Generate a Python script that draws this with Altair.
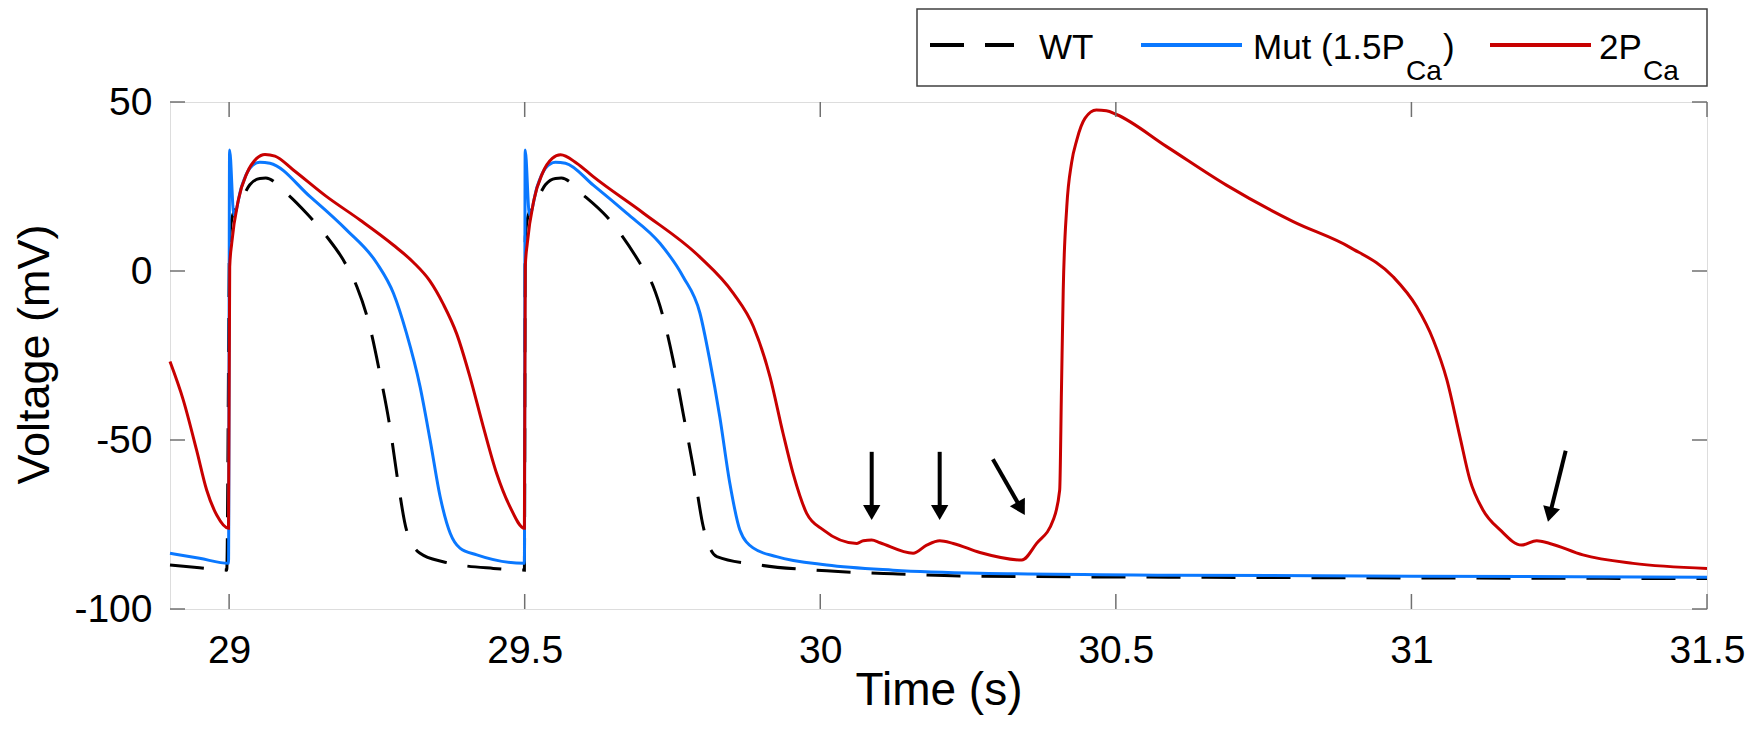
import altair as alt
import pandas as pd
import numpy as np

W, H = 1537, 507
T_MIN, T_MAX = 28.9, 31.5
V_MIN, V_MAX = -100, 50
FONT = "Liberation Sans"

x_ticks = [29, 29.5, 30, 30.5, 31, 31.5]
y_ticks = [-100, -50, 0, 50]

# WT (dashed black)
wt_t = [28.900, 28.950, 28.996, 29.001, 29.006, 29.018, 29.035, 29.052, 29.062, 29.097, 29.131,
        29.165, 29.193, 29.216, 29.238, 29.255, 29.272, 29.286, 29.300, 29.323, 29.362, 29.447,
        29.4995, 29.501, 29.506, 29.518, 29.535, 29.552, 29.562, 29.599, 29.6387, 29.695, 29.7175,
        29.734, 29.751, 29.768, 29.785, 29.802, 29.825, 29.898, 30.011, 30.123, 30.236, 30.600,
        31.000, 31.500]
wt_v = [-87.0, -87.8, -88.5, 10.0, 16.5, 20.0, 25.5, 27.4, 27.5, 23.0, 17.1,
        10.2, 3.3, -4.6, -16.5, -30.3, -46.1, -62.8, -76.6, -83.5, -86.0, -88.0,
        -88.5, 10.0, 16.5, 20.0, 25.5, 27.4, 27.5, 22.5, 16.1, 2.3, -4.6,
        -13.5, -26.3, -42.1, -57.9, -75.6, -84.5, -87.0, -88.7, -89.6, -90.2, -90.6,
        -90.8, -91.0]

# Mut (1.5 PCa) (blue)
mut_t = [28.900, 28.950, 28.999, 29.0008, 29.008, 29.021, 29.035, 29.052, 29.069, 29.137, 29.199,
         29.250, 29.278, 29.300, 29.323, 29.340, 29.357, 29.374, 29.3905, 29.419, 29.4995,
         29.5008, 29.508, 29.521, 29.535, 29.552, 29.569, 29.616, 29.6725, 29.7288, 29.768,
         29.7965, 29.813, 29.830, 29.847, 29.864, 29.887, 29.926, 30.011, 30.123, 30.270,
         30.600, 31.000, 31.500]
mut_v = [-83.5, -85.0, -86.5, 35.8, 16.6, 24.9, 30.4, 32.2, 31.9, 22.0, 12.1,
         2.3, -6.6, -18.4, -34.2, -50.0, -66.8, -77.6, -82.0, -84.0, -86.5,
         35.8, 16.6, 24.9, 30.4, 32.2, 31.9, 25.4, 17.1, 8.2, -1.7,
         -12.5, -26.3, -43.1, -62.8, -76.6, -82.0, -84.5, -87.0, -88.5, -89.4,
         -90.0, -90.3, -90.6]

# 2 PCa (red)
red_t = [28.900, 28.9225, 28.945, 28.962, 28.979, 28.999,
         29.001, 29.0044, 29.0156, 29.030, 29.0466, 29.0607, 29.0776, 29.1086, 29.165, 29.2214,
         29.2777, 29.3115, 29.3398, 29.3623, 29.385, 29.4074, 29.430, 29.4526, 29.475, 29.4995,
         29.501, 29.5044, 29.5156, 29.530, 29.5466, 29.5607, 29.588, 29.616, 29.701, 29.796,
         29.853, 29.887, 29.915, 29.937, 29.954, 29.977, 30.005, 30.062, 30.0727, 30.087,
         30.101, 30.157, 30.180, 30.202, 30.225, 30.270, 30.341, 30.366, 30.394, 30.405,
         30.408, 30.411, 30.417, 30.425, 30.434, 30.448, 30.467, 30.484, 30.501, 30.586,
         30.687, 30.800, 30.896, 30.969, 31.009, 31.037, 31.060, 31.082, 31.099, 31.121,
         31.150, 31.186, 31.212, 31.234, 31.290, 31.375, 31.500]
red_v = [-26.8, -38.2, -53.0, -64.8, -72.2, -76.1,
         1.3, 8.2, 21.0, 28.9, 33.3, 34.5, 34.0, 29.9, 22.0, 15.1,
         7.7, 2.6, -3.0, -9.8, -18.6, -31.3, -46.1, -59.9, -69.7, -76.1,
         1.3, 8.2, 21.0, 28.9, 33.3, 34.4, 31.9, 27.9, 17.1, 4.2,
         -6.6, -16.5, -31.3, -48.0, -59.9, -71.7, -76.6, -80.6, -79.8, -79.6,
         -80.4, -83.5, -81.1, -79.8, -80.6, -83.3, -85.5, -80.6, -73.7, -64.8,
         -35.2, -5.6, 19.0, 31.9, 38.8, 45.2, 47.6, 47.4, 46.3, 36.8,
         25.4, 14.6, 7.0, -1.7, -10.6, -20.4, -32.2, -49.0, -61.8, -70.7,
         -76.6, -81.1, -79.8, -80.6, -84.0, -86.5, -88.0]

# annotation arrows: start and tip (data units)
arrow_t0 = [30.087, 30.202, 30.292, 31.261]
arrow_v0 = [-53.5, -53.5, -55.7, -53.2]
arrow_t1 = [30.087, 30.202, 30.346, 31.231]
arrow_v1 = [-73.7, -73.7, -72.2, -74.2]

series_names = ["WT", "Mut (1.5PCa)", "2PCa"]
series_colors = ["#000000", "#0a78ff", "#c80000"]

xs = alt.Scale(domain=[T_MIN, T_MAX], nice=False, zero=False)
ys = alt.Scale(domain=[V_MIN, V_MAX], nice=False, zero=False)

x_axis = alt.Axis(values=x_ticks, labelExpr="'' + datum.value", title="Time (s)", grid=False,
                  domain=False, ticks=False, tickSize=0, labelFontSize=39, labelFont=FONT,
                  labelColor="#000", labelPadding=22, labelFlush=False, labelOverlap=False,
                  titleFontSize=46, titleFont=FONT, titleFontWeight="normal", titleColor="#000",
                  titleX=W / 2, titleY=95, titleBaseline="alphabetic", titleAlign="center")
y_axis = alt.Axis(values=y_ticks, labelExpr="'' + datum.value", title="Voltage (mV)", grid=False,
                  domain=False, ticks=False, tickSize=0, labelFontSize=39, labelFont=FONT,
                  labelColor="#000", labelPadding=18, labelOverlap=False,
                  titleFontSize=45, titleFont=FONT, titleFontWeight="normal", titleColor="#000",
                  titleX=-122, titleY=252, titleAngle=270, titleBaseline="alphabetic",
                  titleAlign="center")


def X(field="t"):
    return alt.X(f"{field}:Q", scale=xs, axis=x_axis)


def Y(field="v"):
    return alt.Y(f"{field}:Q", scale=ys, axis=y_axis)


wt_df = pd.DataFrame({"t": wt_t, "v": wt_v})
mut_df = pd.DataFrame({"t": mut_t, "v": mut_v})
red_df = pd.DataFrame({"t": red_t, "v": red_v})

wt_line = alt.Chart(wt_df).mark_line(color=series_colors[0], strokeWidth=3, strokeDash=[34, 21],
                                     interpolate="monotone").encode(x=X(), y=Y())
mut_line = alt.Chart(mut_df).mark_line(color=series_colors[1], strokeWidth=3,
                                       interpolate="monotone").encode(x=X(), y=Y())
red_line = alt.Chart(red_df).mark_line(color=series_colors[2], strokeWidth=3,
                                       interpolate="monotone").encode(x=X(), y=Y())

# arrows
px_t = W / (T_MAX - T_MIN)
px_v = H / (V_MAX - V_MIN)
a0t, a0v = np.array(arrow_t0), np.array(arrow_v0)
a1t, a1v = np.array(arrow_t1), np.array(arrow_v1)
dx = (a1t - a0t) * px_t
dy = -(a1v - a0v) * px_v
L = np.hypot(dx, dy)
ux, uy = dx / L, dy / L
head_len = 7.5
hc_t = a1t - head_len * ux / px_t
hc_v = a1v + head_len * uy / px_v
ang = np.mod(np.degrees(np.arctan2(-ux, uy)), 360)
arrow_df = pd.DataFrame({"t": a0t, "v": a0v, "t2": hc_t, "v2": hc_v, "ang": ang})

shafts = alt.Chart(arrow_df).mark_rule(color="black", strokeWidth=4).encode(
    x=X(), y=Y(), x2="t2:Q", y2="v2:Q")
heads = alt.Chart(arrow_df).mark_point(shape="triangle-down", filled=True, color="black",
                                       size=300, opacity=1).encode(
    x=X("t2"), y=Y("v2"), angle=alt.Angle("ang:Q", scale=None))

# inward ticks on all four sides
xt_df = pd.DataFrame({"t": x_ticks})
yt_df = pd.DataFrame({"v": y_ticks})
TICK = 15
TCOL = "#707070"
tick_b = alt.Chart(xt_df).mark_rule(color=TCOL, strokeWidth=1.5).encode(
    x=X(), y=alt.value(H), y2=alt.value(H - TICK))
tick_t = alt.Chart(xt_df).mark_rule(color=TCOL, strokeWidth=1.5).encode(
    x=X(), y=alt.value(0), y2=alt.value(TICK))
tick_l = alt.Chart(yt_df).mark_rule(color=TCOL, strokeWidth=1.5).encode(
    y=Y(), x=alt.value(0), x2=alt.value(TICK))
tick_r = alt.Chart(yt_df).mark_rule(color=TCOL, strokeWidth=1.5).encode(
    y=Y(), x=alt.value(W), x2=alt.value(W - TICK))

# legend (custom, to allow subscripts)
one = alt.Data(values=[{"k": 1}])
leg_box = alt.Chart(one).mark_rect(fill="white", stroke="#404040", strokeWidth=1.5).encode(
    x=alt.value(747), x2=alt.value(1537), y=alt.value(-93), y2=alt.value(-16))
LY = -57
leg_l1 = alt.Chart(one).mark_rule(color=series_colors[0], strokeWidth=4, strokeDash=[34, 21]).encode(
    x=alt.value(760), x2=alt.value(844), y=alt.value(LY))
leg_l2 = alt.Chart(one).mark_rule(color=series_colors[1], strokeWidth=4).encode(
    x=alt.value(971), x2=alt.value(1072), y=alt.value(LY))
leg_l3 = alt.Chart(one).mark_rule(color=series_colors[2], strokeWidth=4).encode(
    x=alt.value(1320), x2=alt.value(1421), y=alt.value(LY))


def leg_text(txt, x, y, size):
    return alt.Chart(one).mark_text(text=txt, align="left", baseline="alphabetic",
                                    font=FONT, fontSize=size, color="black").encode(
        x=alt.value(x), y=alt.value(y))


MAIN_Y, SUB_Y = -43, -22
leg_texts = [
    leg_text("WT", 869, MAIN_Y, 35),
    leg_text("Mut (1.5P", 1083, MAIN_Y, 35),
    leg_text("Ca", 1236, SUB_Y, 28),
    leg_text(")", 1273, MAIN_Y, 35),
    leg_text("2P", 1429, MAIN_Y, 35),
    leg_text("Ca", 1473, SUB_Y, 28),
]

chart = alt.layer(
    wt_line, mut_line, red_line, shafts, heads,
    tick_b, tick_t, tick_l, tick_r,
    leg_box, leg_l1, leg_l2, leg_l3, *leg_texts
).properties(
    width=W, height=H,
    autosize=alt.AutoSizeParams(type="none"),
    padding={"left": 162, "top": 94, "right": 42, "bottom": 120},
).configure_view(stroke="#707070", strokeWidth=1.5).configure(background="white")

chart.save("out.html", embed_options={"renderer": "svg", "actions": False})
